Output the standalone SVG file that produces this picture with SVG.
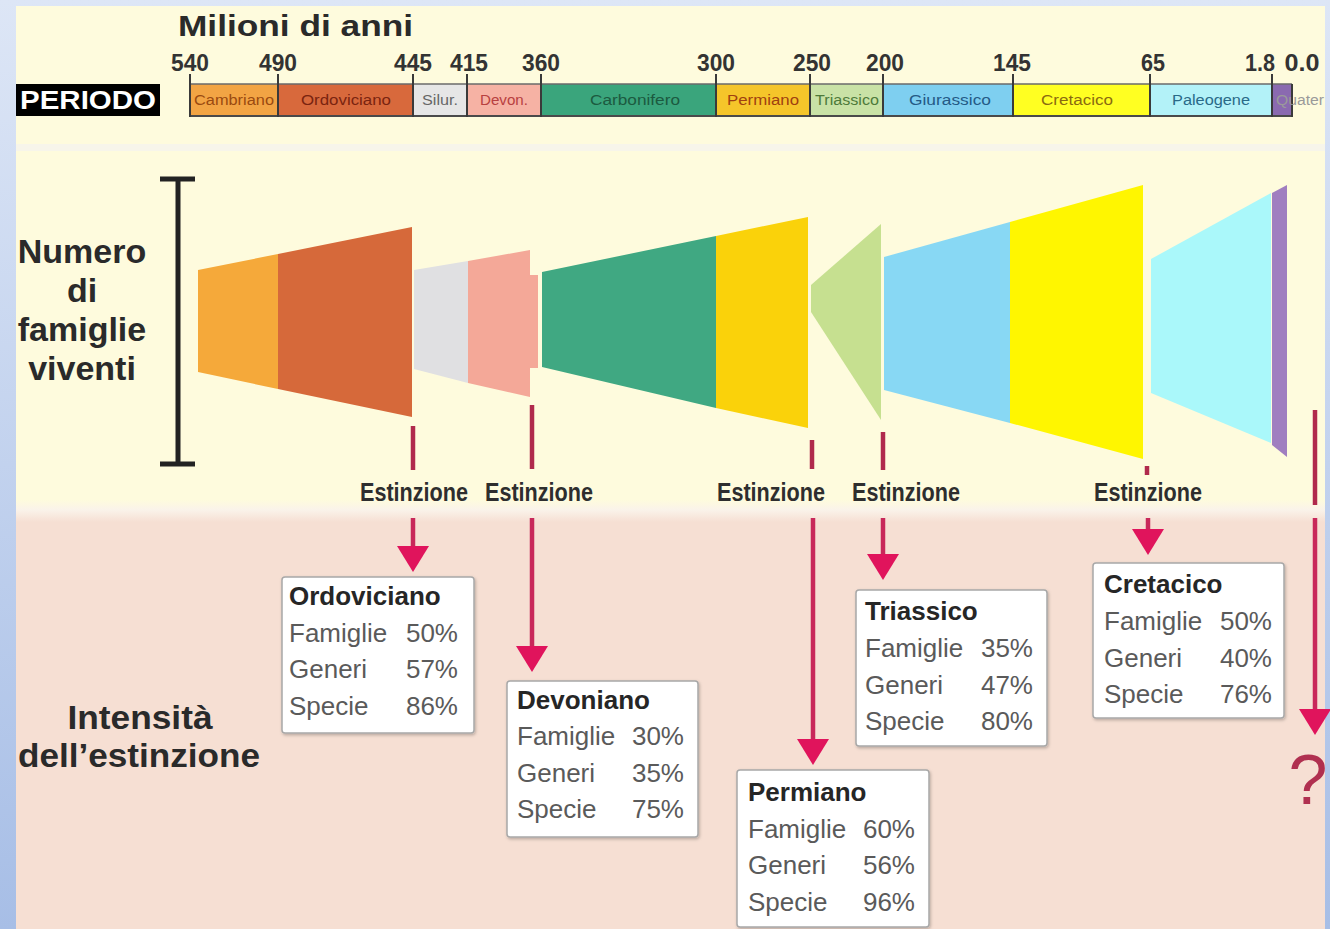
<svg xmlns="http://www.w3.org/2000/svg" width="1330" height="929" viewBox="0 0 1330 929">
<defs>
<linearGradient id="frame" x1="0" y1="0" x2="0" y2="1">
<stop offset="0" stop-color="#dde6f6"/>
<stop offset="1" stop-color="#a7bee6"/>
</linearGradient>
<linearGradient id="split" x1="0" y1="0" x2="0" y2="1">
<stop offset="0" stop-color="#fefbdd"/>
<stop offset="0.45" stop-color="#faf3ea"/>
<stop offset="1" stop-color="#f6dfd3"/>
</linearGradient>
<filter id="sh" x="-5%" y="-5%" width="115%" height="115%">
<feDropShadow dx="1" dy="1.5" stdDeviation="1.5" flood-color="#000" flood-opacity="0.25"/>
</filter>
<marker id="ah" viewBox="0 -16 26 32" markerWidth="26" markerHeight="32" refX="2" refY="0" orient="auto" markerUnits="userSpaceOnUse">
<path d="M0,-16 L26,0 L0,16 Z" fill="#e0145c"/>
</marker>
<style>
.t{font-family:"Liberation Sans",Arial,sans-serif}
.hd{font-family:"Liberation Sans",Arial,sans-serif;font-weight:bold;fill:#2a2a2a}
.num{font-family:"Liberation Sans",Arial,sans-serif;font-weight:bold;font-size:24px;fill:#333;text-anchor:middle}
.bl{font-family:"Liberation Sans",Arial,sans-serif;font-size:14px;text-anchor:middle}
.bls{font-family:"Liberation Sans",Arial,sans-serif;font-size:14px;text-anchor:start}
.est{font-family:"Liberation Sans",Arial,sans-serif;font-weight:bold;font-size:25px;fill:#2e2e2e;text-anchor:middle}
.box{fill:#fff;stroke:#a8a8a8;stroke-width:1.5;filter:url(#sh)}
.bt{font-family:"Liberation Sans",Arial,sans-serif;font-weight:bold;font-size:26px;fill:#262626}
.br{font-family:"Liberation Sans",Arial,sans-serif;font-size:26px;fill:#5a5a5a}
.bp{font-family:"Liberation Sans",Arial,sans-serif;font-size:26px;fill:#5a5a5a;text-anchor:end}
.tick{stroke:#3a3a3a;stroke-width:2}
.dash{stroke:#b02a4c;stroke-width:4.5;fill:none}
.arr{stroke:#c8285a;stroke-width:4.5;fill:none;marker-end:url(#ah)}
</style>
</defs>

<!-- background -->
<rect x="0" y="0" width="1330" height="929" fill="url(#frame)"/>
<rect x="16" y="6" width="1309" height="923" fill="#fefbdd"/>
<rect x="16" y="144" width="1309" height="7" fill="#f7f5ea"/>
<rect x="16" y="500" width="1309" height="22" fill="url(#split)"/>
<rect x="16" y="522" width="1309" height="407" fill="#f6dfd3"/>

<!-- header -->
<g id="header">
<text class="hd" x="178" y="36" font-size="30" textLength="235" lengthAdjust="spacingAndGlyphs">Milioni di anni</text>
<rect x="16" y="84" width="144" height="32" fill="#000"/>
<text class="t" x="88" y="109" font-size="26" font-weight="bold" fill="#fff" text-anchor="middle" textLength="136" lengthAdjust="spacingAndGlyphs">PERIODO</text>
</g>

<!-- timeline bar -->
<g id="timeline">
<rect x="190" y="84" width="88" height="32" fill="#f2a444"/>
<rect x="278" y="84" width="135" height="32" fill="#d8693c"/>
<rect x="413" y="84" width="54" height="32" fill="#e6e6e6"/>
<rect x="467" y="84" width="74" height="32" fill="#f6b2a4"/>
<rect x="541" y="84" width="175" height="32" fill="#3aa57c"/>
<rect x="716" y="84" width="94" height="32" fill="#f5c52a"/>
<rect x="810" y="84" width="73" height="32" fill="#c9e2a6"/>
<rect x="883" y="84" width="130" height="32" fill="#7ecff0"/>
<rect x="1013" y="84" width="137" height="32" fill="#ffff22"/>
<rect x="1150" y="84" width="122" height="32" fill="#b3f2f8"/>
<rect x="1272" y="84" width="20" height="32" fill="#8a6ab0"/>
<line x1="190" y1="84" x2="1292" y2="84" stroke="#6a6a6a" stroke-width="1.5"/>
<line x1="190" y1="116" x2="1292" y2="116" stroke="#4a4a4a" stroke-width="2"/>
<line class="tick" x1="190" y1="74" x2="190" y2="117"/>
<line class="tick" x1="278" y1="74" x2="278" y2="117"/>
<line class="tick" x1="413" y1="74" x2="413" y2="117"/>
<line class="tick" x1="467" y1="74" x2="467" y2="117"/>
<line class="tick" x1="541" y1="74" x2="541" y2="117"/>
<line class="tick" x1="716" y1="74" x2="716" y2="117"/>
<line class="tick" x1="810" y1="74" x2="810" y2="117"/>
<line class="tick" x1="883" y1="74" x2="883" y2="117"/>
<line class="tick" x1="1013" y1="74" x2="1013" y2="117"/>
<line class="tick" x1="1150" y1="74" x2="1150" y2="117"/>
<line class="tick" x1="1272" y1="74" x2="1272" y2="117"/>
<line class="tick" x1="1292" y1="84" x2="1292" y2="117"/>
<text class="num" x="190" y="71" textLength="38" lengthAdjust="spacingAndGlyphs">540</text>
<text class="num" x="278" y="71" textLength="38" lengthAdjust="spacingAndGlyphs">490</text>
<text class="num" x="413" y="71" textLength="38" lengthAdjust="spacingAndGlyphs">445</text>
<text class="num" x="469" y="71" textLength="38" lengthAdjust="spacingAndGlyphs">415</text>
<text class="num" x="541" y="71" textLength="38" lengthAdjust="spacingAndGlyphs">360</text>
<text class="num" x="716" y="71" textLength="38" lengthAdjust="spacingAndGlyphs">300</text>
<text class="num" x="812" y="71" textLength="38" lengthAdjust="spacingAndGlyphs">250</text>
<text class="num" x="885" y="71" textLength="38" lengthAdjust="spacingAndGlyphs">200</text>
<text class="num" x="1012" y="71" textLength="38" lengthAdjust="spacingAndGlyphs">145</text>
<text class="num" x="1153" y="71" textLength="24" lengthAdjust="spacingAndGlyphs">65</text>
<text class="num" x="1260" y="71" textLength="30" lengthAdjust="spacingAndGlyphs">1.8</text>
<text class="num" x="1302" y="71" textLength="35" lengthAdjust="spacingAndGlyphs">0.0</text>
<text class="bl" x="234" y="105" fill="#9a4a10" textLength="80" lengthAdjust="spacingAndGlyphs">Cambriano</text>
<text class="bl" x="346" y="105" fill="#7a2410" textLength="90" lengthAdjust="spacingAndGlyphs">Ordoviciano</text>
<text class="bl" x="440" y="105" fill="#666" textLength="36" lengthAdjust="spacingAndGlyphs">Silur.</text>
<text class="bl" x="504" y="105" fill="#b84040" textLength="48" lengthAdjust="spacingAndGlyphs">Devon.</text>
<text class="bl" x="635" y="105" fill="#1c5a40" textLength="90" lengthAdjust="spacingAndGlyphs">Carbonifero</text>
<text class="bl" x="763" y="105" fill="#a04010" textLength="72" lengthAdjust="spacingAndGlyphs">Permiano</text>
<text class="bl" x="847" y="105" fill="#4e7a3a" textLength="64" lengthAdjust="spacingAndGlyphs">Triassico</text>
<text class="bl" x="950" y="105" fill="#245a86" textLength="82" lengthAdjust="spacingAndGlyphs">Giurassico</text>
<text class="bl" x="1077" y="105" fill="#8a6a10" textLength="72" lengthAdjust="spacingAndGlyphs">Cretacico</text>
<text class="bl" x="1211" y="105" fill="#2a6a88" textLength="78" lengthAdjust="spacingAndGlyphs">Paleogene</text>
<text class="bls" x="1276" y="105" fill="#9a9a9a" textLength="48" lengthAdjust="spacingAndGlyphs">Quater</text>
</g>

<!-- axis -->
<g id="axis">
<line x1="178" y1="179" x2="178" y2="464" stroke="#222" stroke-width="5"/>
<line x1="160" y1="179" x2="195" y2="179" stroke="#222" stroke-width="5"/>
<line x1="160" y1="464" x2="195" y2="464" stroke="#222" stroke-width="5"/>
<text class="hd" font-size="34" text-anchor="middle"><tspan x="82" y="263">Numero</tspan><tspan x="82" y="302">di</tspan><tspan x="82" y="341">famiglie</tspan><tspan x="82" y="380">viventi</tspan></text>
<text class="hd" font-size="34" text-anchor="middle"><tspan x="140" y="729" textLength="145" lengthAdjust="spacingAndGlyphs">Intensità</tspan><tspan x="139" y="767" textLength="242" lengthAdjust="spacingAndGlyphs">dell’estinzione</tspan></text>
</g>

<!-- diversity shapes -->
<g id="shapes">
<polygon id="s-cambriano" points="198,270 278,254 278,389 198,372" fill="#f5a93a"/>
<polygon id="s-ordoviciano" points="278,254 412,227 412,417 278,389" fill="#d6693a"/>
<polygon id="s-siluriano" points="414,270 468,261 468,383 414,369" fill="#e0e0e2"/>
<polygon id="s-devoniano" points="468,261 530,250 530,275 538,275 538,368 530,368 530,397 468,383" fill="#f4a898"/>
<polygon id="s-carbonifero" points="542,272 716,236 716,408 542,367" fill="#40a882"/>
<polygon id="s-permiano" points="716,236 808,217 808,428 716,408" fill="#fad20a"/>
<polygon id="s-triassico" points="811,285 881,224 881,420 811,312" fill="#c6e090"/>
<polygon id="s-giurassico" points="884,257 1010,222 1010,423 884,390" fill="#88d8f4"/>
<polygon id="s-cretacico" points="1010,222 1143,185 1143,459 1010,423" fill="#fff600"/>
<polygon id="s-paleogene" points="1151,259 1271,193 1271,443 1151,393" fill="#aaf8fa"/>
<polygon id="s-quaternario" points="1272,193 1287,185 1287,457 1272,445" fill="#a07ec0"/>
</g>

<!-- Estinzione labels -->
<g id="labels">
<text class="est" x="414" y="501" textLength="108" lengthAdjust="spacingAndGlyphs">Estinzione</text>
<text class="est" x="539" y="501" textLength="108" lengthAdjust="spacingAndGlyphs">Estinzione</text>
<text class="est" x="771" y="501" textLength="108" lengthAdjust="spacingAndGlyphs">Estinzione</text>
<text class="est" x="906" y="501" textLength="108" lengthAdjust="spacingAndGlyphs">Estinzione</text>
<text class="est" x="1148" y="501" textLength="108" lengthAdjust="spacingAndGlyphs">Estinzione</text>
</g>

<!-- right frame strip -->
<rect x="1325" y="0" width="5" height="929" fill="url(#frame)"/>

<!-- connectors -->
<g id="connectors">
<line class="dash" x1="413" y1="426" x2="413" y2="470"/>
<line class="dash" x1="532" y1="405" x2="532" y2="469"/>
<line class="dash" x1="812" y1="440" x2="812" y2="469"/>
<line class="dash" x1="883" y1="432" x2="883" y2="470"/>
<line class="dash" x1="1147" y1="466" x2="1147" y2="475"/>
<line class="dash" x1="1315" y1="410" x2="1315" y2="505"/>
<path class="arr" d="M413,518 L413,548"/>
<path class="arr" d="M532,518 L532,648"/>
<path class="arr" d="M813,518 L813,741"/>
<path class="arr" d="M883,518 L883,556"/>
<path class="arr" d="M1148,518 L1148,531"/>
<path class="arr" d="M1315,518 L1315,711"/>
<text class="t" x="1308" y="804" font-size="70" fill="#b03050" text-anchor="middle">?</text>
</g>

<!-- boxes -->
<g id="box-ordoviciano">
<rect class="box" x="282" y="577" width="192" height="156" rx="3"/>
<text class="bt" x="289" y="605">Ordoviciano</text>
<text class="br" x="289" y="642">Famiglie</text><text class="bp" x="458" y="642">50%</text>
<text class="br" x="289" y="678">Generi</text><text class="bp" x="458" y="678">57%</text>
<text class="br" x="289" y="715">Specie</text><text class="bp" x="458" y="715">86%</text>
</g>
<g id="box-devoniano">
<rect class="box" x="507" y="681" width="191" height="156" rx="3"/>
<text class="bt" x="517" y="709">Devoniano</text>
<text class="br" x="517" y="745">Famiglie</text><text class="bp" x="684" y="745">30%</text>
<text class="br" x="517" y="782">Generi</text><text class="bp" x="684" y="782">35%</text>
<text class="br" x="517" y="818">Specie</text><text class="bp" x="684" y="818">75%</text>
</g>
<g id="box-permiano">
<rect class="box" x="737" y="770" width="192" height="157" rx="3"/>
<text class="bt" x="748" y="801">Permiano</text>
<text class="br" x="748" y="838">Famiglie</text><text class="bp" x="915" y="838">60%</text>
<text class="br" x="748" y="874">Generi</text><text class="bp" x="915" y="874">56%</text>
<text class="br" x="748" y="911">Specie</text><text class="bp" x="915" y="911">96%</text>
</g>
<g id="box-triassico">
<rect class="box" x="856" y="590" width="191" height="156" rx="3"/>
<text class="bt" x="865" y="620">Triassico</text>
<text class="br" x="865" y="657">Famiglie</text><text class="bp" x="1033" y="657">35%</text>
<text class="br" x="865" y="694">Generi</text><text class="bp" x="1033" y="694">47%</text>
<text class="br" x="865" y="730">Specie</text><text class="bp" x="1033" y="730">80%</text>
</g>
<g id="box-cretacico">
<rect class="box" x="1093" y="563" width="191" height="155" rx="3"/>
<text class="bt" x="1104" y="593">Cretacico</text>
<text class="br" x="1104" y="630">Famiglie</text><text class="bp" x="1272" y="630">50%</text>
<text class="br" x="1104" y="667">Generi</text><text class="bp" x="1272" y="667">40%</text>
<text class="br" x="1104" y="703">Specie</text><text class="bp" x="1272" y="703">76%</text>
</g>
</svg>
